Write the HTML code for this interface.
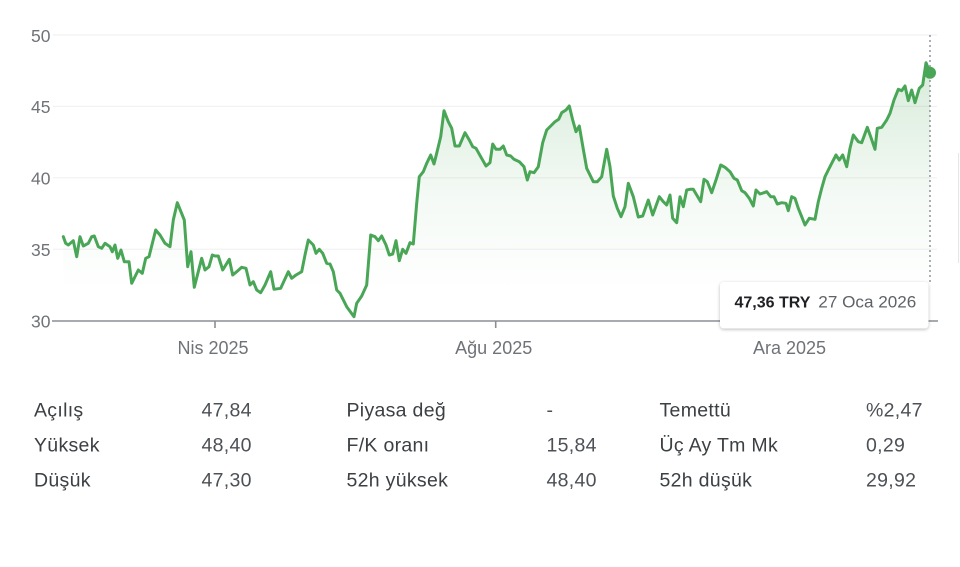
<!DOCTYPE html>
<html>
<head>
<meta charset="utf-8">
<style>
  html,body{margin:0;padding:0;background:#fff;}
  body{width:960px;height:567px;overflow:hidden;}
  svg{display:block;}
  text{font-family:"Liberation Sans","DejaVu Sans",sans-serif;}
</style>
</head>
<body>
<svg width="960" height="567" viewBox="0 0 960 567" xmlns="http://www.w3.org/2000/svg">
  <defs>
    <linearGradient id="fillg" x1="0" y1="60" x2="0" y2="290" gradientUnits="userSpaceOnUse">
      <stop offset="0" stop-color="#4aa657" stop-opacity="0.22"/>
      <stop offset="0.6" stop-color="#4aa657" stop-opacity="0.06"/>
      <stop offset="1" stop-color="#4aa657" stop-opacity="0"/>
    </linearGradient>
    <filter id="shadow" x="-10%" y="-20%" width="120%" height="150%">
      <feDropShadow dx="0" dy="1" stdDeviation="1.6" flood-color="#000" flood-opacity="0.28"/>
    </filter>
  </defs>

  <!-- gridlines -->
  <g stroke="#f0f1f2" stroke-width="1.2">
    <line x1="53" y1="35" x2="937" y2="35"/>
    <line x1="53" y1="106.4" x2="937" y2="106.4"/>
    <line x1="53" y1="177.8" x2="937" y2="177.8"/>
    <line x1="53" y1="249.2" x2="937" y2="249.2"/>
  </g>

  <!-- y labels -->
  <g fill="#6f7378" font-size="17.5" text-anchor="end">
    <text x="50.5" y="41.8">50</text>
    <text x="50.5" y="113.2">45</text>
    <text x="50.5" y="184.6">40</text>
    <text x="50.5" y="256">35</text>
    <text x="50.5" y="327.4">30</text>
  </g>

  <!-- fill -->
  <polygon fill="url(#fillg)" points="63.3,236.7 65.7,243.3 68.3,245 73.3,240.7 76.7,256.7 80,236.7 83.3,246 88.3,243.3 91.7,236.7 94.3,236 98.3,246.7 101.7,248.3 105,243.3 110,246.7 112.3,251.7 115,245 117.7,258.3 121,250 124.3,261.7 129,261.7 131.7,283.3 138.3,270 142.3,273.3 145.7,258.3 149,256.7 155.7,230 160,235 165,243.3 170,246.7 173.3,220 177.3,202.7 184.3,220 187.7,266.7 191,251.7 194.3,287.3 201.7,258.3 205,270 209,266.7 212.3,255 215,256 218.3,256 222.7,270 229.3,259.3 232.7,275 236.7,271.7 241.7,267.3 246,268.3 250,285 253.3,281.7 256.7,290 260.7,292.7 265,285 270.7,271.7 274,289.3 280.7,288.3 288.3,271.7 291.7,278.3 296,275 301.7,271.7 305,255 308.3,240 313.3,245 316,253.3 319.3,249.3 322.7,253.3 326.7,263.3 330,264 333.3,271.7 336.7,290 340,293.3 346.7,306.7 354,316.7 356.7,303.3 361.7,296 366.7,285 370.7,235 375,236.7 378.3,240.7 381.7,236 386,245 389.3,255 392.7,254 396,240.7 399.3,260.7 402.7,249.3 406,253.3 410,242.7 413.3,244 416.7,203.3 419.3,176.7 423.3,171.7 426.7,163.3 430.7,155 434,164 436.7,153.3 440.7,136.7 444,110.7 448.3,121.7 451.7,128.3 455,146 459.3,146 465,132.7 469.3,140 472.7,146.7 476,148.3 480.7,156.7 486,166 490,162.7 492.7,144 496,149.3 500,149.3 503.3,146 506.7,155 510.7,156 514,159.3 519.3,161.7 524,166.7 527.3,180 530,171.7 534,172.7 538.3,166.7 542.7,142.7 546.7,130 550.7,126 555,121.7 558.7,119.3 561.7,112.7 566,110 569.3,106 572.7,120 576,131.7 579.3,126 583.3,149.3 586.7,168.3 593.3,181.7 597.3,181.7 601.7,176.7 606.7,149.3 610,166.7 613.3,196 617.3,208.3 621,216.7 625,206.7 628.3,183.3 633.3,196.7 638.3,217 642.7,216 648.3,200 652.7,215 659.3,196.7 663.3,201.7 666.7,205 670,195 672.7,218.3 676.7,222.7 680,196.7 683.3,206.7 686.7,190 690,189.3 693.3,189.3 696.7,195 700.7,201.7 704,179.3 707.3,181.7 711.7,192.7 716,180 720.7,165 725,167.3 730,171.7 734,178.3 737.3,180 741.7,190.7 745,192.7 749.3,198.3 753.3,206 756,190 760,194 764,192.7 766.7,191.7 770.7,196.7 774,196.7 777.3,204 781.7,202.7 786,203.3 788.3,210.7 791.7,196.7 795,198.3 798.3,208.3 801.7,216.7 805,225 809.3,218.3 815,219.3 818.3,201.7 821.7,188.3 825,176.7 828.3,170 831.7,163.3 836,155 839.3,160 842.7,155 846.7,166.7 850,148.3 853.3,135 858.3,141.7 861.7,142.7 867.3,127.3 870.7,136.7 875,149.3 877.3,128.3 881.7,127.3 886.7,120 890,113.3 894,100 898.3,89.3 901.7,90.7 905,86 908.3,100.7 911.7,90 915,102.7 919.3,88.3 922.7,85 926,62.7 928.3,68.3 930,72.7 930,321 63.3,321"/>

  <!-- axis -->
  <line x1="52" y1="321" x2="938" y2="321" stroke="#8a8e93" stroke-width="1.6"/>
  <g stroke="#8a8e93" stroke-width="1.6">
    <line x1="215" y1="321" x2="215" y2="328"/>
    <line x1="495.7" y1="321" x2="495.7" y2="328"/>
    <line x1="791" y1="321" x2="791" y2="328"/>
  </g>
  <g fill="#6f7378" font-size="18" text-anchor="middle">
    <text x="213" y="354">Nis 2025</text>
    <text x="493.7" y="354">Ağu 2025</text>
    <text x="789.5" y="354">Ara 2025</text>
  </g>

  <!-- dotted hover line -->
  <line x1="930" y1="35" x2="930" y2="282" stroke="#80868b" stroke-width="1.3" stroke-dasharray="2,3"/>

  <!-- line -->
  <polyline fill="none" stroke="#4aa657" stroke-width="3" stroke-linejoin="round" stroke-linecap="round" points="63.3,236.7 65.7,243.3 68.3,245 73.3,240.7 76.7,256.7 80,236.7 83.3,246 88.3,243.3 91.7,236.7 94.3,236 98.3,246.7 101.7,248.3 105,243.3 110,246.7 112.3,251.7 115,245 117.7,258.3 121,250 124.3,261.7 129,261.7 131.7,283.3 138.3,270 142.3,273.3 145.7,258.3 149,256.7 155.7,230 160,235 165,243.3 170,246.7 173.3,220 177.3,202.7 184.3,220 187.7,266.7 191,251.7 194.3,287.3 201.7,258.3 205,270 209,266.7 212.3,255 215,256 218.3,256 222.7,270 229.3,259.3 232.7,275 236.7,271.7 241.7,267.3 246,268.3 250,285 253.3,281.7 256.7,290 260.7,292.7 265,285 270.7,271.7 274,289.3 280.7,288.3 288.3,271.7 291.7,278.3 296,275 301.7,271.7 305,255 308.3,240 313.3,245 316,253.3 319.3,249.3 322.7,253.3 326.7,263.3 330,264 333.3,271.7 336.7,290 340,293.3 346.7,306.7 354,316.7 356.7,303.3 361.7,296 366.7,285 370.7,235 375,236.7 378.3,240.7 381.7,236 386,245 389.3,255 392.7,254 396,240.7 399.3,260.7 402.7,249.3 406,253.3 410,242.7 413.3,244 416.7,203.3 419.3,176.7 423.3,171.7 426.7,163.3 430.7,155 434,164 436.7,153.3 440.7,136.7 444,110.7 448.3,121.7 451.7,128.3 455,146 459.3,146 465,132.7 469.3,140 472.7,146.7 476,148.3 480.7,156.7 486,166 490,162.7 492.7,144 496,149.3 500,149.3 503.3,146 506.7,155 510.7,156 514,159.3 519.3,161.7 524,166.7 527.3,180 530,171.7 534,172.7 538.3,166.7 542.7,142.7 546.7,130 550.7,126 555,121.7 558.7,119.3 561.7,112.7 566,110 569.3,106 572.7,120 576,131.7 579.3,126 583.3,149.3 586.7,168.3 593.3,181.7 597.3,181.7 601.7,176.7 606.7,149.3 610,166.7 613.3,196 617.3,208.3 621,216.7 625,206.7 628.3,183.3 633.3,196.7 638.3,217 642.7,216 648.3,200 652.7,215 659.3,196.7 663.3,201.7 666.7,205 670,195 672.7,218.3 676.7,222.7 680,196.7 683.3,206.7 686.7,190 690,189.3 693.3,189.3 696.7,195 700.7,201.7 704,179.3 707.3,181.7 711.7,192.7 716,180 720.7,165 725,167.3 730,171.7 734,178.3 737.3,180 741.7,190.7 745,192.7 749.3,198.3 753.3,206 756,190 760,194 764,192.7 766.7,191.7 770.7,196.7 774,196.7 777.3,204 781.7,202.7 786,203.3 788.3,210.7 791.7,196.7 795,198.3 798.3,208.3 801.7,216.7 805,225 809.3,218.3 815,219.3 818.3,201.7 821.7,188.3 825,176.7 828.3,170 831.7,163.3 836,155 839.3,160 842.7,155 846.7,166.7 850,148.3 853.3,135 858.3,141.7 861.7,142.7 867.3,127.3 870.7,136.7 875,149.3 877.3,128.3 881.7,127.3 886.7,120 890,113.3 894,100 898.3,89.3 901.7,90.7 905,86 908.3,100.7 911.7,90 915,102.7 919.3,88.3 922.7,85 926,62.7 928.3,68.3 930,72.7"/>
  <circle cx="930" cy="72.7" r="6" fill="#4aa657"/>

  <!-- faint right edge -->
  <line x1="958.5" y1="153" x2="958.5" y2="263" stroke="#e6e6e6" stroke-width="1"/>

  <!-- tooltip -->
  <rect x="720" y="282" width="208.5" height="46.5" rx="4" ry="4" fill="#fff" filter="url(#shadow)"/>
  <text x="734.5" y="307.5" font-size="16" font-weight="bold" fill="#202124">47,36 TRY</text>
  <text x="818.3" y="307.5" font-size="16.5" fill="#5f6368" textLength="98" lengthAdjust="spacingAndGlyphs">27 Oca 2026</text>

  <!-- stats table -->
  <g font-size="19.5" fill="#3c4043" letter-spacing="0.3">
    <text x="34" y="416.5">Açılış</text>
    <text x="34" y="451.5">Yüksek</text>
    <text x="34" y="486.5">Düşük</text>
    <text x="346.5" y="416.5">Piyasa değ</text>
    <text x="346.5" y="451.5">F/K oranı</text>
    <text x="346.5" y="486.5">52h yüksek</text>
    <text x="659.5" y="416.5">Temettü</text>
    <text x="659.5" y="451.5">Üç Ay Tm Mk</text>
    <text x="659.5" y="486.5">52h düşük</text>
  </g>
  <g font-size="19.5" fill="#4d5156" letter-spacing="0.3">
    <text x="201.5" y="416.5">47,84</text>
    <text x="201.5" y="451.5">48,40</text>
    <text x="201.5" y="486.5">47,30</text>
    <text x="546.5" y="416.5">-</text>
    <text x="546.5" y="451.5">15,84</text>
    <text x="546.5" y="486.5">48,40</text>
    <text x="866" y="416.5">%2,47</text>
    <text x="866" y="451.5">0,29</text>
    <text x="866" y="486.5">29,92</text>
  </g>
</svg>
</body>
</html>
